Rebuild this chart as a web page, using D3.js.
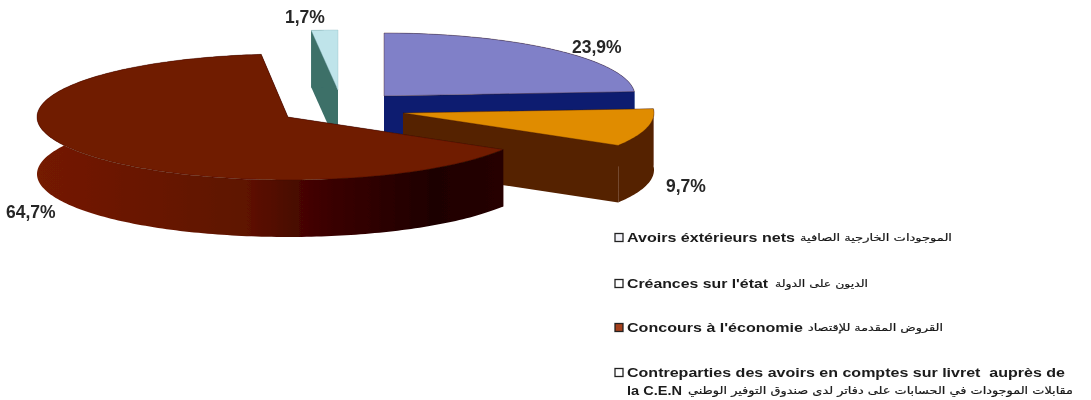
<!DOCTYPE html>
<html>
<head>
<meta charset="utf-8">
<script src="https://cdnjs.cloudflare.com/ajax/libs/d3/7.8.5/d3.min.js"></script>
<style>
html,body{margin:0;padding:0;background:#fff;}
svg{display:block;}
</style>
</head>
<body>
<svg id="c" width="1091" height="400"></svg>
<script>
// data
const categories = ["Avoirs éxtérieurs nets","Créances sur l'état","Concours à l'économie","Contreparties des avoirs en comptes sur livret  auprès de"];
const categoriesAr = ["الموجودات الخارجية الصافية","الديون على الدولة","القروض المقدمة للإقتصاد","مقابلات الموجودات في الحسابات على دفاتر لدى صندوق التوفير الوطني"];
const continuation = "la C.E.N";
const values = [23.9, 9.7, 64.7, 1.7];
const valueLabels = ["23,9%","9,7%","64,7%","1,7%"];

// styles
const topColors = ["#8080c8","#e08c00","#701a06","#bfe4ea"];
const sideColors = ["#0a1f70","#552206","url(#redWall)","#3c6f68"];
const faceColors = ["#0a1f70","#552206","#3a0500","#3c6f68"];
const swatchFills = ["#f2f2f8","#ffffff","#a5401c","#ffffff"];

// layout of the exploded slices
const centerX = [384, 403, 288, 338];
const centerY = [96, 113, 117, 90];
const radiusY = [63, 63, 63, 60];
const radiusX = 251, depth = 57;
const drawOrder = [3, 0, 1, 2];
const labelPos = [[572,53],[666,192],[6,218],[285,23]];
const legendBase = [242, 288, 332, 377];
const legendWidth = [168, 141, 176, 438];
const arPos = [[800,152],[775,93],[808,135]];

const svg = d3.select("#c");
const defs = svg.append("defs");
const f = defs.append("filter").attr("id","scan").attr("x","-5%").attr("y","-5%").attr("width","110%").attr("height","110%");
f.append("feGaussianBlur").attr("stdDeviation",0.45);
const g = defs.append("linearGradient").attr("id","redWall");
[[0,"#741a06"],[0.45,"#5e1202"],[0.63,"#3a0000"],[0.85,"#1e0505"],[1,"#260606"]].forEach(s=>
  g.append("stop").attr("offset",s[0]).attr("stop-color",s[1]));

const pie = d3.pie().sort(null).startAngle(0).endAngle(2*Math.PI)(values);
const root = svg.append("g").attr("filter","url(#scan)");
const line = d3.line();

function proj(i, a, dz){
  const x = d3.scaleLinear().domain([-1,1]).range([centerX[i]-radiusX, centerX[i]+radiusX]);
  const y = d3.scaleLinear().domain([-1,1]).range([centerY[i]+radiusY[i], centerY[i]-radiusY[i]]);
  return [x(Math.sin(a)), y(Math.cos(a)) + (dz||0)];
}
function arcPts(i, a0, a1, dz){
  const n = Math.max(2, Math.ceil((a1-a0)/0.02));
  return d3.range(n+1).map(k=>proj(i, a0+(a1-a0)*k/n, dz));
}
drawOrder.forEach(i=>{
  const d = pie[i], a0 = d.startAngle, a1 = d.endAngle;
  const apex = [centerX[i], centerY[i]];
  const apexD = [centerX[i], centerY[i]+depth];
  [a0,a1].forEach(a=>{
    root.append("path")
      .attr("d", line([apex, proj(i,a), proj(i,a,depth), apexD])+"Z")
      .attr("fill", faceColors[i]);
  });
  const wall = arcPts(i,a0,a1).concat(arcPts(i,a0,a1,depth).reverse());
  root.append("path").attr("d", line(wall)+"Z").attr("fill", sideColors[i]);
  root.append("path")
    .attr("d", line([apex].concat(arcPts(i,a0,a1)))+"Z")
    .attr("fill", topColors[i])
    .attr("stroke", i===3 ? "#8fb8c0" : "#3a1008")
    .attr("stroke-opacity", 0.45)
    .attr("stroke-width", 0.8);
});

// value labels
root.selectAll("text.v").data(valueLabels).enter().append("text")
  .attr("class","v")
  .attr("x",(d,i)=>labelPos[i][0]).attr("y",(d,i)=>labelPos[i][1])
  .attr("font-family","'Liberation Sans',Arial,sans-serif")
  .attr("font-size",17.5).attr("font-weight","bold").attr("fill","#262626")
  .text(d=>d);

// legend
const lg = root.append("g");
categories.forEach((c,i)=>{
  lg.append("rect").attr("x",615).attr("y",legendBase[i]-8.5).attr("width",8).attr("height",8)
    .attr("fill",swatchFills[i]).attr("stroke","#222").attr("stroke-width",1.3);
  lg.append("text").attr("x",627).attr("y",legendBase[i])
    .attr("font-family","'Liberation Sans',Arial,sans-serif").attr("font-size",12.6).attr("font-weight","bold")
    .attr("fill","#1a1a1a").attr("xml:space","preserve").style("white-space","pre")
    .attr("textLength",legendWidth[i]).attr("lengthAdjust","spacingAndGlyphs")
    .text(c);
  if(i<3){
    lg.append("text").attr("x",arPos[i][0]).attr("y",legendBase[i]-1)
      .attr("font-family","'DejaVu Sans',sans-serif").attr("font-size",10).attr("fill","#1a1a1a")
      .attr("stroke","#1a1a1a").attr("stroke-width",0.2)
      .attr("textLength",arPos[i][1]).attr("lengthAdjust","spacingAndGlyphs")
      .text(categoriesAr[i]);
  }
});
lg.append("text").attr("x",627).attr("y",395)
  .attr("font-family","'Liberation Sans',Arial,sans-serif").attr("font-size",12.6).attr("font-weight","bold")
  .attr("fill","#1a1a1a").attr("textLength",55).attr("lengthAdjust","spacingAndGlyphs")
  .text(continuation);
lg.append("text").attr("x",688).attr("y",394)
  .attr("font-family","'DejaVu Sans',sans-serif").attr("font-size",10.5).attr("fill","#1a1a1a")
  .attr("stroke","#1a1a1a").attr("stroke-width",0.2)
  .attr("textLength",385).attr("lengthAdjust","spacingAndGlyphs")
  .text(categoriesAr[3]);
</script>
</body>
</html>
